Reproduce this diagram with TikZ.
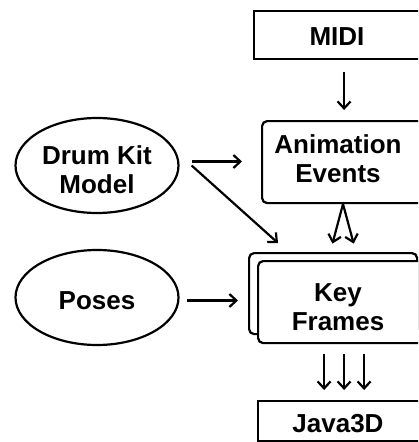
\documentclass[tikz,border=0pt]{standalone}
\usepackage{fontspec}
\setmainfont{Liberation Sans}
\usetikzlibrary{arrows.meta,shapes.geometric}
\begin{document}
\begin{tikzpicture}[x=1pt,y=-1pt,
  ln/.style={line width=2.2pt},
  arr/.style={ln,-{Straight Barb[length=7pt,width=13pt,line width=2.2pt]}},
  sqbox/.style={draw,ln,rectangle,inner sep=0pt,minimum width=176pt,anchor=north west},
  rbox/.style={draw,ln,rectangle,rounded corners=5pt,inner sep=0pt,anchor=north west,fill=white},
  oval/.style={draw,ln,ellipse,inner sep=0pt,minimum width=163pt,minimum height=95pt},
  lbl/.style={font=\bfseries\fontsize{26}{29}\selectfont,align=center,inner sep=0pt}]
\useasboundingbox (0,0) rectangle (418,442);
\clip (0,0) rectangle (418,442);
% boxes
\node[sqbox,minimum width=180pt,minimum height=48pt] (midi) at (253,10) {};
\node[rbox,minimum width=164pt,minimum height=82pt] (ae) at (261,120) {};
\node[rbox,minimum width=168pt,minimum height=81pt] (kfb) at (248,252) {};
\node[rbox,minimum width=172pt,minimum height=82pt] (kf) at (257,260) {};
\node[sqbox,minimum width=172pt,minimum height=40pt] (java) at (257,400) {};
\node[oval] (drum) at (97,165.5) {};
\node[oval] (poses) at (97,297.5) {};
% labels
\node[lbl] (midit) at (337,37) {MIDI};
\node[lbl] (aet) at (338,159) {Animation\\Events};
\node[lbl] (kft) at (338,307) {Key\\Frames};
\node[lbl] (javat) at (338,424) {Java3D};
\node[lbl] (drumt) at (97,170) {Drum Kit\\Model};
\node[lbl] (posest) at (97,301) {Poses};
% connectors
\draw[arr,shorten <=12pt,shorten >=10pt] (midi.south) -- (ae.north);
\draw[arr,shorten <=12pt,shorten >=19pt] ([yshift=4pt]drum.east) -- ([yshift=4pt]drum.east -| ae.west);
\coordinate (kfhit) at (278,243);
\draw[arr] ([xshift=12pt]drum.east) -- (kfhit);
\draw[arr,shorten <=7pt,shorten >=10pt] ([yshift=-3pt]poses.east) -- ([yshift=-3pt]poses.east -| kfb.west);
\coordinate (aebot) at (343,204);
\draw[arr,shorten >=17pt] (aebot) -- ([xshift=-16pt]kf.north);
\draw[arr,shorten >=17pt] (aebot) -- ([xshift=14pt]kf.north);
\foreach \dx/\nm in {-20/a,0/b,20/c}
  \draw[arr,shorten <=10pt,shorten >=10pt] ([xshift=\dx pt]kf.south) -- ([xshift=\dx pt]java.north);
\end{tikzpicture}
\end{document}
